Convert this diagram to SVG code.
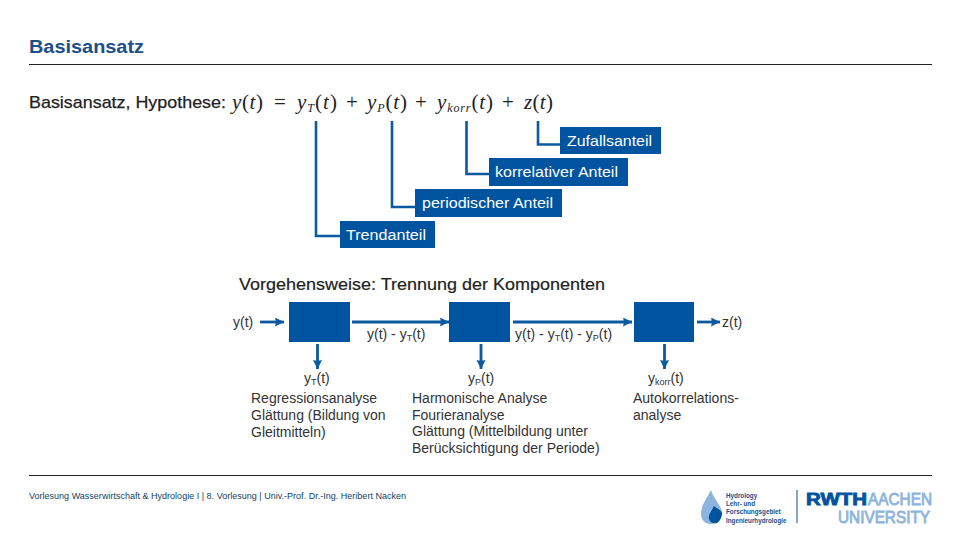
<svg xmlns="http://www.w3.org/2000/svg" width="960" height="540" viewBox="0 0 960 540">
<defs>
<marker id="ah" markerUnits="userSpaceOnUse" markerWidth="10" markerHeight="10" refX="9" refY="4.500" orient="auto"><path d="M0 0L9 4.500L0 9L1 4.500Z" fill="#0B5AA0"/></marker>
</defs>
<style>
text{font-family:"Liberation Sans",Arial,sans-serif;font-size:14px;fill:#333}
.w{fill:#fff}
.box{fill:#00539F}
.lead{fill:none;stroke:#0B5AA0;stroke-width:2.6}
.arr{fill:none;stroke:#0B5AA0;stroke-width:2.8;marker-end:url(#ah)}
.m{font-family:"Liberation Serif",serif;font-size:21px;fill:#222}
.i{font-style:italic}
.b{font-size:17px;fill:#222;stroke:#222;stroke-width:.25}
.sub{font-size:9px}
.msub{font-size:12px}
.lg{font-size:6.300px;font-weight:bold;fill:#1a4f85}
.big{font-size:16px;fill:#8DB4DC;stroke:#8DB4DC;stroke-width:.8}
</style>
<rect width="960" height="540" fill="#fff"/>
<text x="29" y="53" style="font-size:18px;font-weight:bold;fill:#1B4F8A" textLength="115" lengthAdjust="spacingAndGlyphs">Basisansatz</text>
<path d="M29 64.500H932M29 475.500H932" stroke="#222" stroke-width="1"/>
<g id="formula">
<text x="29" y="108" class="b" textLength="197" lengthAdjust="spacingAndGlyphs">Basisansatz, Hypothese:</text>
<text x="232" y="109" class="m" textLength="31"><tspan class="i">y</tspan>(<tspan class="i">t</tspan>)</text>
<text x="274" y="109" class="m">=</text>
<text x="297" y="109" class="m" textLength="40"><tspan class="i">y</tspan><tspan class="i msub" dy="3">T</tspan><tspan dy="-3">(</tspan><tspan class="i">t</tspan>)</text>
<text x="346" y="109" class="m">+</text>
<text x="367" y="109" class="m" textLength="40"><tspan class="i">y</tspan><tspan class="i msub" dy="3">P</tspan><tspan dy="-3">(</tspan><tspan class="i">t</tspan>)</text>
<text x="415" y="109" class="m">+</text>
<text x="437" y="109" class="m" textLength="56"><tspan class="i">y</tspan><tspan class="i msub" dy="3">korr</tspan><tspan dy="-3">(</tspan><tspan class="i">t</tspan>)</text>
<text x="502" y="109" class="m">+</text>
<text x="524" y="109" class="m" textLength="29"><tspan class="i">z</tspan>(<tspan class="i">t</tspan>)</text>
</g>
<g id="connectors">
<path class="lead" d="M316 121V236H340"/>
<path class="lead" d="M392 121V207H415"/>
<path class="lead" d="M466.500 121V174H489"/>
<path class="lead" d="M538 121V144.500H560"/>
<path class="arr" d="M260 322H284"/>
<path class="arr" d="M352 322H449"/>
<path class="arr" d="M513 322H632"/>
<path class="arr" d="M697 322H720"/>
<path class="arr" d="M317.500 344V369"/>
<path class="arr" d="M481 344V369"/>
<path class="arr" d="M664.500 344V369"/>
</g>
<g id="zufallsanteil"><rect class="box" x="560" y="127" width="101" height="27"/><text class="w" x="567" y="146" textLength="85" lengthAdjust="spacingAndGlyphs">Zufallsanteil</text></g>
<g id="korrelativ"><rect class="box" x="489" y="158" width="139" height="28"/><text class="w" x="495" y="177" textLength="123" lengthAdjust="spacingAndGlyphs">korrelativer Anteil</text></g>
<g id="periodisch"><rect class="box" x="415" y="189" width="147" height="28"/><text class="w" x="422" y="208" textLength="131" lengthAdjust="spacingAndGlyphs">periodischer Anteil</text></g>
<g id="trend"><rect class="box" x="340" y="221" width="95" height="27"/><text class="w" x="346" y="240" textLength="80" lengthAdjust="spacingAndGlyphs">Trendanteil</text></g>
<text x="239" y="290" style="font-size:17px;fill:#222;stroke:#222;stroke-width:.2" textLength="366" lengthAdjust="spacingAndGlyphs">Vorgehensweise: Trennung der Komponenten</text>
<g id="input"><text x="233" y="327">y(t)</text></g>
<g id="step1"><rect class="box" x="289" y="302" width="61" height="40"/></g>
<g id="step2"><rect class="box" x="449" y="302" width="61" height="40"/></g>
<g id="step3"><rect class="box" x="634" y="302" width="60" height="40"/></g>
<g id="output"><text x="722" y="327">z(t)</text></g>
<text x="367" y="339">y(t) - y<tspan class="sub" dy="2">T</tspan><tspan dy="-2">(t)</tspan></text>
<text x="515" y="339">y(t) - y<tspan class="sub" dy="2">T</tspan><tspan dy="-2">(t) - y</tspan><tspan class="sub" dy="2">P</tspan><tspan dy="-2">(t)</tspan></text>
<g id="t1">
<text x="304" y="383">y<tspan class="sub" dy="2">T</tspan><tspan dy="-2">(t)</tspan></text>
<text x="251" y="403">Regressionsanalyse</text>
<text x="251" y="420">Glättung (Bildung von</text>
<text x="251" y="437">Gleitmitteln)</text>
</g>
<g id="t2">
<text x="468" y="383">y<tspan class="sub" dy="2">P</tspan><tspan dy="-2">(t)</tspan></text>
<text x="412" y="403">Harmonische Analyse</text>
<text x="412" y="420">Fourieranalyse</text>
<text x="412" y="436">Glättung (Mittelbildung unter</text>
<text x="412" y="453">Berücksichtigung der Periode)</text>
</g>
<g id="t3">
<text x="648" y="383">y<tspan class="sub" dy="2">korr</tspan><tspan dy="-2">(t)</tspan></text>
<text x="633" y="403">Autokorrelations-</text>
<text x="633" y="420">analyse</text>
</g>
<text x="29" y="499" style="font-size:9px;fill:#123f5f" textLength="377">Vorlesung Wasserwirtschaft &amp; Hydrologie I | 8. Vorlesung | Univ.-Prof. Dr.-Ing. Heribert Nacken</text>
<g id="logo">
<path d="M711 490C706 500 701 505 701 514C701 520 705 524 711 524C717 524 722 520 722 513C722 506 714 500 711 490Z" fill="#8DB4DC"/>
<path d="M714 506C711 512 708 515 709 519C710 523 714 524 717 523C720 521 722 517 722 513C721 510 716 508 714 506Z" fill="#00539F"/>
<text x="726" y="498" class="lg">Hydrology</text>
<text x="726" y="506" class="lg">Lehr- und</text>
<text x="726" y="514" class="lg">Forschungsgebiet</text>
<text x="726" y="523" class="lg">Ingenieurhydrologie</text>
<path d="M797 490V523" stroke="#1a4f85" stroke-width="1"/>
<text x="806" y="504.500" style="font-size:16px;font-weight:bold;fill:#00539F;stroke:#00539F;stroke-width:.8" textLength="61" lengthAdjust="spacingAndGlyphs">RWTH</text>
<text x="868" y="504.500" class="big" textLength="64" lengthAdjust="spacingAndGlyphs">AACHEN</text>
<text x="838" y="523" class="big" textLength="92" lengthAdjust="spacingAndGlyphs">UNIVERSITY</text>
</g>
</svg>
